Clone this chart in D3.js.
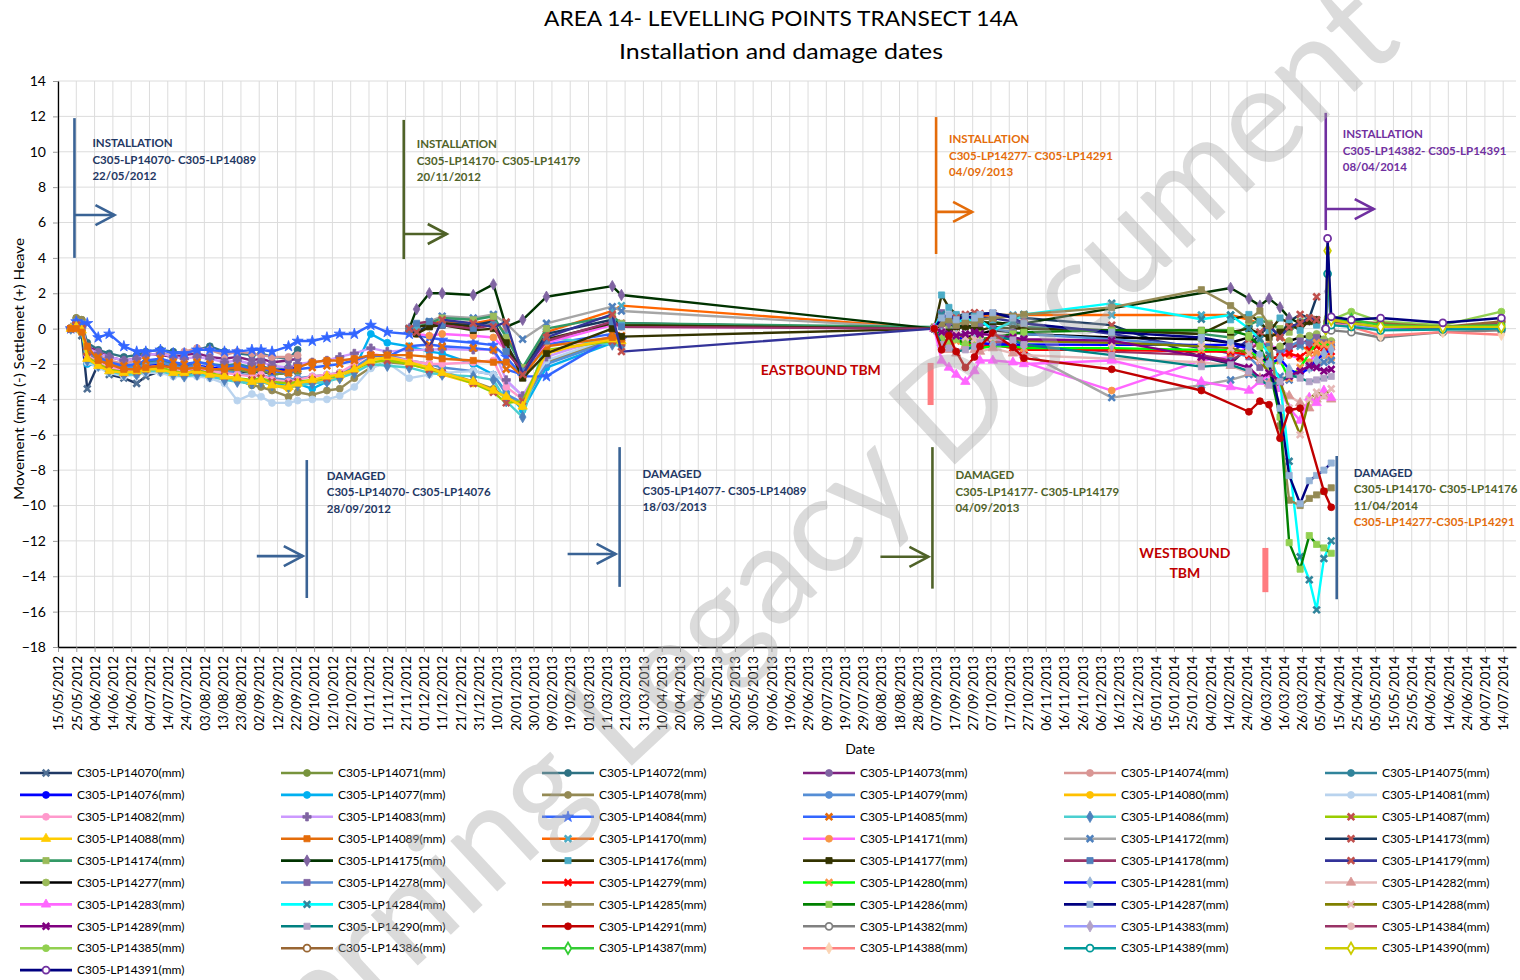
<!DOCTYPE html>
<html>
<head>
<meta charset="utf-8">
<script src="https://cdn.jsdelivr.net/npm/d3@7"></script>
<style>
  body { margin: 0; background: #fff; }
  svg { font-family: Lato, "Liberation Sans", sans-serif; }
</style>
</head>
<body>
<svg id="chart" width="1520" height="980"></svg>
<script>
// ---- data ----

// group 1 : LP14070 - LP14089, installed 22/05/2012
var dates1 = ["22/05/2012","25/05/2012","28/05/2012","31/05/2012","06/06/2012","12/06/2012","20/06/2012","27/06/2012",
  "02/07/2012","10/07/2012","17/07/2012","23/07/2012","30/07/2012","06/08/2012","14/08/2012","21/08/2012","29/08/2012",
  "03/09/2012","09/09/2012","18/09/2012","23/09/2012","01/10/2012","09/10/2012","16/10/2012","24/10/2012","02/11/2012",
  "11/11/2012","23/11/2012","04/12/2012","11/12/2012","28/12/2012","08/01/2013","15/01/2013","24/01/2013","06/02/2013",
  "14/03/2013","19/03/2013"];
var ids1 = ["C305-LP14070","C305-LP14071","C305-LP14072","C305-LP14073","C305-LP14074","C305-LP14075","C305-LP14076",
  "C305-LP14077","C305-LP14078","C305-LP14079","C305-LP14080","C305-LP14081","C305-LP14082","C305-LP14083",
  "C305-LP14084","C305-LP14085","C305-LP14086","C305-LP14087","C305-LP14088","C305-LP14089"];
var values1 = [
  [0, 0.2, -0.4, -3.4, -2.0, -2.6, -2.8, -3.1, -2.7, -2.4, -2.3, -2.5, -2.3, -2.4, -2.5, -2.4, -2.5, -2.4, -2.6, -2.5, -2.4],
  [0, 0.6, 0.5, -1.4, -1.9, -2.2, -2.4, -2.5, -2.3, -2.2, -2.3, -2.4, -2.3, -2.4, -2.4, -2.3, -2.5, -2.3, -2.6, -2.5, -2.4],
  [0, 0.4, 0.3, -0.8, -1.2, -1.4, -1.6, -1.5, -1.3, -1.2, -1.3, -1.4, -1.2, -1.0, -1.3, -1.4, -1.5, -1.4, -1.6, -1.7, -1.2],
  [0, 0.3, 0.0, -1.0, -1.3, -1.6, -1.8, -1.7, -1.4, -1.5, -1.6, -1.5, -1.4, -1.6, -1.7, -1.6, -1.8, -1.7, -1.9, -1.8, -1.7],
  [0, 0.2, 0.1, -1.2, -1.5, -1.8, -2.0, -1.8, -1.5, -1.4, -1.5, -1.3, -1.1, -1.2, -1.5, -1.3, -1.4, -1.5, -1.6, -1.6, -1.5],
  [0, 0.4, 0.2, -1.5, -1.7, -2.0, -2.2, -2.1, -1.9, -1.8, -2.0, -2.1, -1.9, -2.0, -2.1, -2.0, -2.2, -2.1, -2.3, -2.2, -2.1],
  [0, 0.3, 0.1, -1.6, -1.9, -2.3, -2.4, -2.3, -2.1, -2.0, -2.1, -2.2, -2.1, -2.2, -2.3, -2.2, -2.3, -2.2, -2.4, -2.3, -2.2],
  [0, 0.1, -0.2, -2.0, -2.1, -2.5, -2.6, -2.5, -2.4, -2.3, -2.5, -2.6, -2.5, -2.7, -2.8, -2.9, -3.2, -2.9, -3.0, -3.3, -3.1, -3.4, -3.0, -2.6, -2.3, -0.3, -0.8, -1.0, -1.3, -1.4, -2.0, -2.6, -3.6, -4.6, -2.2, -0.8, -0.9],
  [0, 0.6, 0.5, -1.2, -1.8, -2.2, -2.5, -2.6, -2.4, -2.3, -2.5, -2.6, -2.4, -2.6, -2.8, -2.9, -3.2, -3.3, -3.5, -3.85, -3.6, -3.75, -3.5, -3.4, -2.8, -2.2, -1.9, -2.0, -2.2, -2.4, -3.0, -3.4, -3.9, -4.3, -1.9, -0.6, -0.9],
  [0, 0.4, 0.3, -1.3, -1.7, -2.0, -2.2, -2.2, -2.0, -1.9, -2.1, -2.2, -2.1, -2.3, -2.4, -2.5, -2.7, -2.6, -2.8, -2.9, -2.8, -2.7, -2.6, -2.5, -2.2, -1.6, -1.5, -1.8, -2.0, -2.2, -2.4, -2.6, -3.7, -4.2, -2.0, -0.7, -0.8],
  [0, 0.2, 0.0, -1.8, -2.0, -2.4, -2.6, -2.5, -2.4, -2.3, -2.4, -2.5, -2.4, -2.6, -2.8, -2.9, -3.1, -3.0, -3.2, -3.4, -3.2, -3.0, -2.9, -2.8, -2.4, -1.7, -1.7, -2.0, -2.3, -2.6, -3.1, -3.5, -3.9, -4.4, -1.4, -0.6, -0.8],
  [0, 0.3, 0.1, -1.9, -2.2, -2.5, -2.7, -2.6, -2.5, -2.5, -2.7, -2.7, -2.7, -2.8, -3.1, -4.07, -3.7, -3.85, -4.2, -4.2, -4.07, -4.0, -4.0, -3.8, -3.3, -2.25, -1.9, -2.8, -2.6, -2.5, -2.4, -2.6, -3.0, -3.8, -1.8, -0.5, -0.7],
  [0, 0.2, 0.0, -1.5, -1.9, -2.2, -2.3, -2.4, -2.2, -2.1, -2.3, -2.4, -2.2, -2.4, -2.5, -2.6, -2.7, -2.6, -2.9, -3.0, -2.9, -2.7, -2.6, -2.5, -2.0, -1.4, -1.6, -1.8, -2.0, -2.0, -1.9, -1.8, -3.3, -4.0, -1.3, -0.5, -0.6],
  [0, 0.3, 0.1, -1.1, -1.4, -1.6, -1.8, -1.7, -1.5, -1.4, -1.6, -1.7, -1.6, -1.7, -1.9, -1.8, -2.0, -1.9, -2.1, -2.2, -2.0, -1.9, -1.8, -1.6, -1.4, -1.1, -1.3, -1.2, -1.2, -1.15, -1.2, -1.2, -2.9, -3.8, -1.6, -0.4, -0.5],
  [0, 0.4, 0.2, 0.3, -0.5, -0.3, -1.0, -1.3, -1.3, -1.2, -1.4, -1.4, -1.2, -1.2, -1.3, -1.3, -1.2, -1.2, -1.3, -1.0, -0.7, -0.7, -0.5, -0.3, -0.3, 0.2, -0.2, -0.3, -0.5, -0.64, -0.8, -0.93, -1.6, -2.7, -2.7, -0.5, -0.6],
  [0, 0.2, 0.0, -1.3, -1.6, -1.9, -2.1, -2.0, -1.8, -1.7, -1.9, -2.0, -1.9, -2.0, -2.2, -2.1, -2.3, -2.2, -2.4, -2.5, -2.3, -2.2, -2.1, -2.0, -1.8, -1.5, -1.6, -1.0, -0.9, -1.0, -1.1, -1.2, -2.3, -2.6, -0.9, -0.3, -0.4],
  [0, 0.1, -0.1, -1.8, -2.1, -2.4, -2.6, -2.6, -2.4, -2.4, -2.6, -2.7, -2.6, -2.7, -2.9, -3.0, -3.1, -3.0, -3.2, -3.3, -3.2, -3.1, -3.0, -2.8, -2.5, -2.0, -2.1, -2.2, -2.5, -2.6, -2.7, -2.9, -4.1, -5.0, -0.5, -0.9, -1.0],
  [0, 0.2, 0.0, -1.6, -2.0, -2.3, -2.5, -2.4, -2.3, -2.2, -2.4, -2.5, -2.4, -2.5, -2.7, -2.8, -2.9, -2.8, -3.0, -3.1, -3.0, -2.9, -2.8, -2.6, -2.3, -1.9, -1.8, -2.0, -2.3, -2.5, -3.1, -3.6, -4.2, -4.1, -1.2, -0.7, -0.8],
  [0, 0.1, -0.1, -1.7, -2.1, -2.4, -2.5, -2.4, -2.3, -2.3, -2.5, -2.5, -2.4, -2.6, -2.7, -2.8, -3.0, -2.9, -3.2, -3.3, -3.1, -2.9, -2.7, -2.6, -2.3, -1.8, -1.6, -1.9, -2.2, -2.5, -3.0, -3.5, -3.85, -4.4, -1.3, -0.6, -0.7],
  [0, 0.0, -0.2, -1.0, -1.8, -2.0, -2.3, -2.3, -2.2, -2.1, -2.2, -2.3, -2.2, -2.3, -2.3, -2.2, -2.4, -2.2, -2.3, -2.5, -2.2, -1.9, -1.8, -1.8, -1.7, -1.5, -1.5, -1.5, -1.6, -1.7, -1.8, -1.9, -1.9, -2.7, -1.0, -0.5, -0.6]
];

// group 2 : LP14170 - LP14179, installed 20/11/2012 (first period, then re-zeroed from 09/2013)
var dates2 = ["23/11/2012","27/11/2012","04/12/2012","11/12/2012","28/12/2012","08/01/2013","15/01/2013","24/01/2013",
  "06/02/2013","14/03/2013","19/03/2013"];
var datesLate = ["06/09/2013","10/09/2013","14/09/2013","18/09/2013","23/09/2013","28/09/2013","01/10/2013","08/10/2013",
  "19/10/2013","25/10/2013","12/12/2013","30/01/2014","15/02/2014","25/02/2014","03/03/2014","08/03/2014","14/03/2014",
  "19/03/2014","25/03/2014","30/03/2014","03/04/2014","07/04/2014","11/04/2014"];
var ids2 = ["C305-LP14170","C305-LP14171","C305-LP14172","C305-LP14173","C305-LP14174","C305-LP14175","C305-LP14176",
  "C305-LP14177","C305-LP14178","C305-LP14179"];
var values2 = [
  [0, 0.2, 0.3, 0.4, 0.3, 0.5, -0.3, -2.3, -0.2, 1.0, 1.3],
  [0, -0.3, -0.4, -0.3, -0.4, -0.5, -1.2, -2.4, -0.8, 0.2, 0.1],
  [0, 0.2, 0.4, 0.7, 0.6, 0.8, 0.3, -0.6, 0.3, 1.24, 1.0],
  [0, -0.2, 0.2, 0.3, 0.2, 0.4, -0.9, -2.4, -0.3, 0.5, 0.3],
  [0, 0.1, 0.3, 0.6, 0.5, 0.7, -0.5, -2.2, 0.0, 0.7, 0.3],
  [0, 1.1, 2.0, 2.0, 1.9, 2.5, 0.1, 0.5, 1.8, 2.4, 1.9],
  [0, 0.1, 0.2, 0.3, 0.1, 0.2, -1.1, -2.5, -0.6, 0.3, 0.2],
  [0, -0.3, 0.1, 0.2, -0.1, 0.0, -0.8, -2.8, -1.4, 0.0, -0.45],
  [0, 0.3, 0.4, 0.2, 0.0, 0.2, -1.3, -2.4, -0.7, 0.4, 0.1],
  [0, -0.2, -1.1, 0.5, 0.3, 0.1, 0.37, -2.6, -0.5, 0.8, -1.3]
];
var values2Late = [
  [0, 0.4, 0.6, 0.5, 0.7, 0.6, 0.7, 0.77, 0.77, 0.77, 0.77, 0.77, 0.77, 0.5, 0.3, -0.2, -0.5, -0.8, -1.0, -1.2, -0.9, -0.7, -0.8],
  [0, -0.6, -1.0, -1.3, -1.1, -0.9, -0.8, -0.5, -0.9, -1.9, -3.5, -1.8, -1.6, -1.0, -0.8, -0.9, -1.2, -1.5, -1.7, -1.9, -1.4, -1.5, -1.7],
  [0, 0.3, 0.1, -0.2, -0.4, -0.6, -0.8, -0.9, -1.1, -1.3, -3.9, -3.2, -2.9, -2.6, -2.8, -3.0, -2.7, -2.9, -2.5, -2.2, -2.0, -1.9, -1.8],
  [0, 0.5, 0.6, 0.7, 0.8, 0.9, 0.85, 0.87, 0.7, 0.6, 0.2, -1.6, -2.0, -1.0, -0.3, 0.1, -0.4, 0.4, 0.8, 0.6, 1.8],
  [0.1, 0.5, 0.2, 0.4, 0.3, 0.5, 0.3, 0.4, 0.2, 0.1, -0.1, -0.3, -0.5, 0.2, 0.5, 0.3, 0.0, -0.2, 0.4, 0.6, 0.3],
  [0, 0.2, 0.3, 0.1, 0.2, 0.1, 0.2, 0.3, 0.3, 0.3, null, null, 2.3, 1.7, 1.3, 1.7, 1.2, 0.6, 0.3, 0.5, 0.4],
  [0, 1.9, 1.2, 0.8, 0.5, 0.7, 0.4, 0.3, 0.2, 0.0, -0.1, -0.3, 0.5, 0.8, 0.4, -0.2, 0.6, 0.3, -0.1, 0.5, 0.2],
  [0, -0.3, -0.2, 0.0, 0.1, 0.0, -0.1, 0.1, 0.0, 0.0, -0.1, -0.1, -0.2, 0.0, -0.3, -0.5, -0.2, 0.1, 0.3, 0.4, 0.5],
  [0, -0.2, -0.4, -0.3, -0.5, -0.4, -0.6, -0.7, -0.9, -1.0, -1.3, -1.5, -1.8, -1.2, -0.8, -1.0, -1.3, -1.1, -0.9, -0.6, -0.5],
  [0, 0.3, 0.5, 0.6, 0.4, 0.5, 0.6, 0.6, 0.4, 0.3, -0.3, -1.1, -1.4, -0.6, -0.2, 0.2, -0.5, 0.1, 0.3, 0.6, 0.5]
];

// group 3 : LP14277 - LP14291, installed 04/09/2013
var ids3 = ["C305-LP14277","C305-LP14278","C305-LP14279","C305-LP14280","C305-LP14281","C305-LP14282","C305-LP14283",
  "C305-LP14284","C305-LP14285","C305-LP14286","C305-LP14287","C305-LP14288","C305-LP14289","C305-LP14290","C305-LP14291"];
var values3 = [
  [0, -0.4, -0.6, -0.3, -0.5, -0.4, -0.3, -0.1, -0.2, -0.3, -0.5, -0.6, -0.8, -0.5, -0.9, -1.2, -1.0, -0.7, -0.5, -0.4, -0.3, -0.6, -0.7],
  [0, 0.9, 0.4, 0.2, 0.5, 0.3, 0.4, 0.0, -0.2, -0.3, -0.6, -1.0, -1.3, -1.6, -2.2, -1.8, -1.5, -1.0, -0.7, -0.9, -0.5, -0.8, -0.9],
  [0, -0.5, -0.8, -0.6, -0.9, -0.8, -1.0, -0.9, -1.1, -1.2, -1.2, -1.3, -1.3, -1.5, -1.8, -1.7, -1.6, -1.4, -1.6, -1.2, -1.0, -1.1, -1.3],
  [0, -0.6, -0.9, -0.7, -1.0, -0.9, -1.1, -1.0, -1.0, -1.1, -1.1, -1.2, -1.2, -1.3, -1.6, -2.1, -1.8, -2.8, -2.2, -1.4, -0.8, -0.9, -0.9],
  [0, -0.3, -0.6, -0.4, -0.7, -0.6, -0.8, -0.9, -0.9, -0.9, -0.92, -0.92, -0.92, -1.1, -1.5, -2.0, -1.7, -2.3, -2.6, -2.2, -1.8, -1.4, -1.2],
  [0, -0.8, -1.2, -1.4, -1.0, -1.2, -1.3, -1.1, -1.4, -1.5, -1.7, -1.9, -2.1, -2.5, -2.8, -3.1, -3.4, -3.8, -4.2, -4.5, -4.0, -3.8, -4.0],
  [0, -1.8, -2.2, -2.6, -3.0, -2.4, -1.8, -1.8, -1.9, -2.0, -1.8, -3.0, -3.3, -3.5, -3.0, -2.6, -3.4, -4.5, -5.2, -3.9, -4.2, -3.5, -3.9],
  [0, 0.8, 0.5, 0.3, 0.6, 0.4, 0.5, -0.1, 0.4, 0.8, 1.43, 0.53, 0.77, 0.0, -0.6, -1.5, -3.0, -7.5, -12.9, -14.2, -15.9, -13.0, -12.0],
  [0, 0.3, 0.5, 0.2, 0.4, 0.3, 0.5, 0.6, 0.7, 0.8, 1.2, 2.2, 1.3, 0.5, 1.0, 0.2, -5.5, -9.7, -10.0, -9.6, -9.4, -9.2, -9.0],
  [0, -0.5, -0.7, -0.6, -0.8, -0.7, -0.6, -0.5, -0.3, -0.2, -0.1, -0.1, -0.1, -0.4, -1.0, -2.2, -5.0, -12.1, -13.6, -11.7, -12.2, -12.4, -12.7],
  [0, 0.6, 0.8, 0.5, 0.7, 0.6, 0.8, 0.9, 0.6, 0.3, -0.2, -0.5, -0.8, -1.0, -1.5, -2.0, -4.5, -8.3, -9.9, -8.6, -8.3, -8.0, -7.6],
  [0, -0.2, -0.4, -0.3, -0.5, -0.6, -0.7, -0.5, -0.6, -0.7, -0.8, -1.0, -1.1, -1.4, -1.8, -2.5, -3.0, -4.5, -6.0, -4.0, -3.6, -3.8, -3.4],
  [0, -0.2, -0.3, -0.4, -0.3, -0.2, -0.3, -0.36, -0.5, -0.6, -0.68, -1.6, -1.9, -2.2, -2.8, -2.5, -3.0, -2.7, -2.4, -2.1, -2.2, -2.4, -2.3],
  [0, -0.9, -1.1, -1.3, -1.2, -1.0, -0.8, -0.4, -0.64, -0.9, -1.5, -2.15, -2.05, -2.4, -2.9, -3.2, -3.0, -2.6, -2.8, -3.0, -2.9, -2.8, -2.7],
  [0, -1.2, -0.4, -1.3, -2.2, -1.6, -1.0, -0.25, -1.05, -1.67, -2.3, -3.5, null, -4.7, -4.1, -4.3, -6.2, -4.6, -4.5, null, null, -9.2, -10.1]
];

// group 4 : LP14382 - LP14391, installed 08/04/2014
var dates4 = ["08/04/2014","09/04/2014","11/04/2014","22/04/2014","08/05/2014","11/06/2014","13/07/2014"];
var ids4 = ["C305-LP14382","C305-LP14383","C305-LP14384","C305-LP14385","C305-LP14386","C305-LP14387","C305-LP14388",
  "C305-LP14389","C305-LP14390","C305-LP14391"];
var values4 = [
  [0, 0.2, -0.1, -0.2, -0.5, -0.2, -0.1],
  [0, 2.1, 0.3, 0.2, 0.0, 0.1, 0.2],
  [0, 0.5, 0.4, 0.3, 0.1, 0.0, 0.3],
  [0, 0.6, 0.5, 0.96, 0.4, 0.2, 0.96],
  [0, 0.4, 0.5, 0.4, 0.3, 0.1, 0.4],
  [0, 0.3, 0.4, 0.5, 0.2, 0.1, 0.2],
  [0, 0.2, 0.3, 0.1, -0.4, -0.2, -0.35],
  [0, 3.1, 0.2, 0.1, -0.1, -0.05, 0.0],
  [0, 4.4, 0.5, 0.3, 0.1, 0.1, 0.1],
  [0, 5.1, 0.67, 0.5, 0.6, 0.33, 0.6]
];

// ---- styles (Excel series formats) ----
var lineColors = {
  "C305-LP14070":"#1f3864","C305-LP14071":"#77933c","C305-LP14072":"#2e7283","C305-LP14073":"#7f1f7f","C305-LP14074":"#d99694",
  "C305-LP14075":"#31849b","C305-LP14076":"#0000ff","C305-LP14077":"#00b0f0","C305-LP14078":"#948a54","C305-LP14079":"#558ed5",
  "C305-LP14080":"#ffc000","C305-LP14081":"#b9d3ee","C305-LP14082":"#ff99cc","C305-LP14083":"#cc99ff","C305-LP14084":"#3366ff",
  "C305-LP14085":"#3366ff","C305-LP14086":"#4bcfd0","C305-LP14087":"#99cc00","C305-LP14088":"#ffcc00","C305-LP14089":"#e46c0a",
  "C305-LP14170":"#ff6600","C305-LP14171":"#ff66ff","C305-LP14172":"#a6a6a6","C305-LP14173":"#17375e","C305-LP14174":"#339966",
  "C305-LP14175":"#003300","C305-LP14176":"#333300","C305-LP14177":"#333300","C305-LP14178":"#993366","C305-LP14179":"#333399",
  "C305-LP14277":"#000000","C305-LP14278":"#558ed5","C305-LP14279":"#ff0000","C305-LP14280":"#00ff00","C305-LP14281":"#0000ff",
  "C305-LP14282":"#e6b9b8","C305-LP14283":"#ff66ff","C305-LP14284":"#00ffff","C305-LP14285":"#948a54","C305-LP14286":"#008000",
  "C305-LP14287":"#000080","C305-LP14288":"#808000","C305-LP14289":"#800080","C305-LP14290":"#008080","C305-LP14291":"#c00000",
  "C305-LP14382":"#808080","C305-LP14383":"#9999ff","C305-LP14384":"#993366","C305-LP14385":"#92d050","C305-LP14386":"#996633",
  "C305-LP14387":"#33cc33","C305-LP14388":"#ff8080","C305-LP14389":"#009999","C305-LP14390":"#cccc00","C305-LP14391":"#000080"
};
// marker shape and marker colour per series
var markerStyles = {
  "C305-LP14070":["x","#4f6f94"],"C305-LP14071":["circle","#77933c"],"C305-LP14072":["circle","#2e7283"],"C305-LP14073":["circle","#8064a2"],
  "C305-LP14074":["circle","#d99694"],"C305-LP14075":["circle","#31849b"],"C305-LP14076":["circle","#0000ff"],"C305-LP14077":["circle","#00b0f0"],
  "C305-LP14078":["circle","#948a54"],"C305-LP14079":["circle","#558ed5"],"C305-LP14080":["circle","#ffc000"],"C305-LP14081":["circle","#b9d3ee"],
  "C305-LP14082":["circle","#ff99cc"],"C305-LP14083":["plus","#8064a2"],"C305-LP14084":["star","#3366ff"],"C305-LP14085":["x","#e46c0a"],
  "C305-LP14086":["diamond","#4f81bd"],"C305-LP14087":["x","#c0504d"],"C305-LP14088":["triangle","#ffcc00"],"C305-LP14089":["square","#e46c0a"],
  "C305-LP14170":["x","#4bacc6"],"C305-LP14171":["circle","#f79646"],"C305-LP14172":["x","#4f81bd"],"C305-LP14173":["x","#c0504d"],
  "C305-LP14174":["square","#9bbb59"],"C305-LP14175":["diamond","#8064a2"],"C305-LP14176":["square","#4bacc6"],"C305-LP14177":["square","#333300"],
  "C305-LP14178":["square","#4f81bd"],"C305-LP14179":["x","#c0504d"],
  "C305-LP14277":["circle","#9bbb59"],"C305-LP14278":["square","#8064a2"],"C305-LP14279":["x","#ff0000"],"C305-LP14280":["x","#f79646"],
  "C305-LP14281":["diamond","#95b3d7"],"C305-LP14282":["triangle","#d99694"],"C305-LP14283":["triangle","#ff66ff"],"C305-LP14284":["x","#31859c"],
  "C305-LP14285":["square","#948a54"],"C305-LP14286":["square","#92d050"],"C305-LP14287":["square","#95b3d7"],"C305-LP14288":["x","#e6b9b8"],
  "C305-LP14289":["x","#800080"],"C305-LP14290":["square","#b3a2c7"],"C305-LP14291":["circle","#c00000"],
  "C305-LP14382":["ocircle","#808080"],"C305-LP14383":["diamond","#b3a2c7"],"C305-LP14384":["circle","#e6b9b8"],"C305-LP14385":["circle","#92d050"],
  "C305-LP14386":["ocircle","#996633"],"C305-LP14387":["odiamond","#33cc33"],"C305-LP14388":["diamond","#fbd4b4"],"C305-LP14389":["ocircle","#009999"],
  "C305-LP14390":["odiamond","#cccc00"],"C305-LP14391":["ocircle","#7030a0"]
};

// annotation shapes placed on the chart (dates and levels on the chart's own axes)
var installNotes = [
  {date: "24/05/2012", top: 11.9, bottom: 4.0, arrow: 6.42, len: 40, color: "#3a6395", text: "#1f3864", ty: 10.49, dx: 18,
   lines: ["INSTALLATION", "C305-LP14070- C305-LP14089", "22/05/2012"]},
  {date: "20/11/2012", top: 11.8, bottom: 3.93, arrow: 5.35, len: 43, color: "#4f6228", text: "#4f6228", ty: 10.43, dx: 13,
   lines: ["INSTALLATION", "C305-LP14170- C305-LP14179", "20/11/2012"]},
  {date: "07/09/2013", top: 11.96, bottom: 4.22, arrow: 6.6, len: 36, color: "#e46c0a", text: "#e46c0a", ty: 10.72, dx: 13,
   lines: ["INSTALLATION", "C305-LP14277- C305-LP14291", "04/09/2013"]},
  {date: "08/04/2014", top: 12.2, bottom: 5.57, arrow: 6.76, len: 48, color: "#7030a0", text: "#7030a0", ty: 11.0, dx: 17,
   lines: ["INSTALLATION", "C305-LP14382- C305-LP14391", "08/04/2014"]}
];
var damageNotes = [
  {date: "28/09/2012", top: -7.43, bottom: -15.23, arrow: -12.86, len: 46, color: "#3a6395", dx: 20, ty: -8.33,
   lines: [["DAMAGED", "#1f3864"], ["C305-LP14070- C305-LP14076", "#1f3864"], ["28/09/2012", "#1f3864"]]},
  {date: "18/03/2013", top: -6.7, bottom: -14.6, arrow: -12.74, len: 48, color: "#3a6395", dx: 23, ty: -8.22,
   lines: [["DAMAGED", "#1f3864"], ["C305-LP14077- C305-LP14089", "#1f3864"], ["18/03/2013", "#1f3864"]]},
  {date: "05/09/2013", top: -6.7, bottom: -14.7, arrow: -12.9, len: 48, color: "#4f6228", dx: 23, ty: -8.28,
   lines: [["DAMAGED", "#4f6228"], ["C305-LP14177- C305-LP14179", "#4f6228"], ["04/09/2013", "#4f6228"]]},
  {date: "14/04/2014", top: -7.2, bottom: -15.3, arrow: null, len: 0, color: "#3a6395", dx: 17, ty: -8.16,
   lines: [["DAMAGED", "#1f3864"], ["C305-LP14170- C305-LP14176", "#4f6228"], ["11/04/2014", "#4f6228"], ["C305-LP14277-C305-LP14291", "#e46c0a"]]}
];
var tbmNotes = [
  {date: "04/09/2013", top: -1.94, bottom: -4.32, label: ["EASTBOUND TBM"], labelDate: "06/07/2013", labelY: -2.34},
  {date: "06/03/2014", top: -12.4, bottom: -14.9, label: ["WESTBOUND", "TBM"], labelDate: "21/01/2014", labelY: -12.7}
];

// ---- chart ----
var parseDate = d3.utcParse("%d/%m/%Y");
var formatDate = d3.utcFormat("%d/%m/%Y");

var plotLeft = 58, plotRight = 1516, plotTop = 81, plotBottom = 647;

var x = d3.scaleUtc()
  .domain([parseDate("15/05/2012"), parseDate("21/07/2014")])
  .range([plotLeft, plotRight]);
var y = d3.scaleLinear().domain([-18, 14]).range([plotBottom, plotTop]);

var xTicks = d3.utcDay.range(parseDate("15/05/2012"), parseDate("15/07/2014"), 10);
var yTicks = d3.range(-18, 15, 2);

var svg = d3.select("#chart");

// build series list in legend order
var series = [];
function addGroup(ids, dateList, rows, lateDates, lateRows) {
  ids.forEach(function (id, i) {
    var pts = [];
    rows[i].forEach(function (v, j) {
      if (v !== null && v !== undefined) pts.push({date: parseDate(dateList[j]), value: v});
    });
    if (lateRows) {
      lateRows[i].forEach(function (v, j) {
        if (v !== null && v !== undefined) pts.push({date: parseDate(lateDates[j]), value: v});
      });
    }
    series.push({id: id, points: pts, color: lineColors[id], marker: markerStyles[id][0], mcolor: markerStyles[id][1]});
  });
}
addGroup(ids1, dates1, values1);
addGroup(ids2, dates2, values2, datesLate, values2Late);
addGroup(ids3, datesLate, values3);
addGroup(ids4, dates4, values4);

// gridlines
var grid = svg.append("g").attr("class", "grid");
grid.selectAll(".vgrid").data(xTicks).enter().append("line")
  .attr("x1", function (d) { return x(d); }).attr("x2", function (d) { return x(d); })
  .attr("y1", plotTop).attr("y2", plotBottom)
  .attr("stroke", "#dcdcdc").attr("stroke-width", 1);
grid.selectAll(".hgrid").data(yTicks).enter().append("line")
  .attr("x1", plotLeft).attr("x2", plotRight)
  .attr("y1", function (d) { return y(d); }).attr("y2", function (d) { return y(d); })
  .attr("stroke", "#dcdcdc").attr("stroke-width", 1);

// marker path helper
var symbolFor = {
  circle: d3.symbolCircle, ocircle: d3.symbolCircle, square: d3.symbolSquare, diamond: d3.symbolDiamond,
  odiamond: d3.symbolDiamond, triangle: d3.symbolTriangle, star: d3.symbolStar, plus: d3.symbolCross, x: d3.symbolTimes
};
function drawMarker(sel, type, color, size) {
  var p = sel.attr("d", d3.symbol().type(symbolFor[type]).size(size));
  if (type === "x") {
    p.attr("fill", "none").attr("stroke", color).attr("stroke-width", 2.6);
  } else if (type === "ocircle" || type === "odiamond") {
    p.attr("fill", "#fff").attr("stroke", color).attr("stroke-width", 1.8);
  } else {
    p.attr("fill", color).attr("stroke", color).attr("stroke-width", 0.8);
  }
  return p;
}

var line = d3.line()
  .x(function (d) { return x(d.date); })
  .y(function (d) { return y(d.value); });

var plot = svg.append("g").attr("class", "series");
series.forEach(function (s) {
  var g = plot.append("g");
  g.append("path")
    .attr("d", line(s.points))
    .attr("fill", "none")
    .attr("stroke", s.color)
    .attr("stroke-width", 2.4)
    .attr("stroke-linejoin", "round");
  g.selectAll("path.m").data(s.points).enter().append("path")
    .attr("class", "m")
    .attr("transform", function (d) { return "translate(" + x(d.date) + "," + y(d.value) + ")"; })
    .call(function (sel) { drawMarker(sel, s.marker, s.mcolor, s.marker === "x" ? 30 : 38); });
});

// axes
var xAxis = svg.append("g")
  .attr("transform", "translate(0," + plotBottom + ")")
  .call(d3.axisBottom(x).tickValues(xTicks).tickFormat(formatDate).tickSize(5).tickSizeOuter(0));
xAxis.select(".domain").attr("stroke", "#000").attr("stroke-width", 1.3);
xAxis.selectAll(".tick line").attr("stroke", "#999");
xAxis.selectAll(".tick text")
  .attr("transform", "rotate(-90)")
  .attr("text-anchor", "end")
  .attr("x", -9).attr("y", 0).attr("dy", "0.35em")
  .attr("font-size", 13.5).attr("font-family", "Lato, sans-serif").attr("fill", "#000");

var yAxis = svg.append("g")
  .attr("transform", "translate(" + plotLeft + ",0)")
  .call(d3.axisLeft(y).tickValues(yTicks).tickSize(5).tickSizeOuter(0));
yAxis.select(".domain").attr("stroke", "#000").attr("stroke-width", 1.3);
yAxis.selectAll(".tick line").attr("stroke", "#999");
yAxis.selectAll(".tick text")
  .attr("x", -12)
  .attr("font-size", 14).attr("font-family", "Lato, sans-serif").attr("fill", "#000");

// titles
svg.append("text").attr("x", 781).attr("y", 26).attr("text-anchor", "middle")
  .attr("font-size", 22).attr("textLength", 474).attr("lengthAdjust", "spacingAndGlyphs")
  .attr("fill", "#000").text("AREA 14- LEVELLING POINTS TRANSECT 14A");
svg.append("text").attr("x", 781).attr("y", 59).attr("text-anchor", "middle")
  .attr("font-size", 22).attr("textLength", 324).attr("lengthAdjust", "spacingAndGlyphs")
  .attr("fill", "#000").text("Installation and damage dates");
svg.append("text").attr("x", 860).attr("y", 754).attr("text-anchor", "middle")
  .attr("font-size", 14).attr("fill", "#000").text("Date");
svg.append("text").attr("transform", "translate(24,369) rotate(-90)").attr("text-anchor", "middle")
  .attr("font-size", 14).attr("textLength", 262).attr("lengthAdjust", "spacingAndGlyphs")
  .attr("fill", "#000").text("Movement  (mm) (-) Settlemet (+) Heave");

// annotation helpers
function arrowHead(g, tipX, tipY, dir, color) {
  g.append("path")
    .attr("d", "M" + (tipX - dir * 19) + "," + (tipY - 10) + " L" + tipX + "," + tipY + " L" + (tipX - dir * 19) + "," + (tipY + 10))
    .attr("fill", "none").attr("stroke", color).attr("stroke-width", 2.6);
}

var notes = svg.append("g").attr("class", "notes");
installNotes.forEach(function (n) {
  var lx = x(parseDate(n.date));
  notes.append("line").attr("x1", lx).attr("x2", lx).attr("y1", y(n.top)).attr("y2", y(n.bottom))
    .attr("stroke", n.color).attr("stroke-width", 2.6);
  notes.append("line").attr("x1", lx).attr("x2", lx + n.len).attr("y1", y(n.arrow)).attr("y2", y(n.arrow))
    .attr("stroke", n.color).attr("stroke-width", 2.6);
  arrowHead(notes, lx + n.len, y(n.arrow), 1, n.color);
  n.lines.forEach(function (t, i) {
    notes.append("text").attr("x", lx + n.dx).attr("y", y(n.ty) + i * 16.5).attr("dy", "0.35em")
      .attr("font-size", 11.5).attr("font-weight", "bold").attr("fill", n.text).text(t);
  });
});
damageNotes.forEach(function (n) {
  var lx = x(parseDate(n.date));
  notes.append("line").attr("x1", lx).attr("x2", lx).attr("y1", y(n.top)).attr("y2", y(n.bottom))
    .attr("stroke", n.color).attr("stroke-width", 2.6);
  if (n.arrow !== null) {
    notes.append("line").attr("x1", lx - 4 - n.len).attr("x2", lx - 4).attr("y1", y(n.arrow)).attr("y2", y(n.arrow))
      .attr("stroke", n.color).attr("stroke-width", 2.6);
    arrowHead(notes, lx - 4, y(n.arrow), 1, n.color);
  }
  n.lines.forEach(function (t, i) {
    notes.append("text").attr("x", lx + n.dx).attr("y", y(n.ty) + i * 16.5).attr("dy", "0.35em")
      .attr("font-size", 11.5).attr("font-weight", "bold").attr("fill", t[1]).text(t[0]);
  });
});
tbmNotes.forEach(function (n) {
  var lx = x(parseDate(n.date));
  notes.append("rect").attr("x", lx - 3).attr("width", 6).attr("y", y(n.top)).attr("height", y(n.bottom) - y(n.top))
    .attr("fill", "#ff7c80");
  n.label.forEach(function (t, i) {
    notes.append("text").attr("x", x(parseDate(n.labelDate))).attr("y", y(n.labelY) + i * 20).attr("dy", "0.35em")
      .attr("text-anchor", "middle").attr("font-size", 14).attr("font-weight", "bold").attr("fill", "#c00000").text(t);
  });
});

// legend
var legend = svg.append("g").attr("class", "legend");
series.forEach(function (s, i) {
  var col = i % 6, row = Math.floor(i / 6);
  var lx = 20 + col * 261, ly = 773 + row * 21.9;
  var g = legend.append("g").attr("transform", "translate(" + lx + "," + ly + ")");
  g.append("line").attr("x1", 0).attr("x2", 52).attr("y1", 0).attr("y2", 0)
    .attr("stroke", s.color).attr("stroke-width", 2.6);
  g.append("path").attr("transform", "translate(26,0)")
    .call(function (sel) { drawMarker(sel, s.marker, s.mcolor, s.marker === "x" ? 30 : 38); });
  g.append("text").attr("x", 57).attr("y", 0).attr("dy", "0.35em")
    .attr("font-size", 12).attr("fill", "#000").text(s.id + "(mm)");
});

// watermark
svg.append("text")
  .attr("transform", "translate(815,595) rotate(-43)")
  .attr("text-anchor", "middle")
  .attr("font-size", 136)
  .attr("fill", "#a6a6a6")
  .attr("fill-opacity", 0.4)
  .text("Learning Legacy Document");
</script>
</body>
</html>
